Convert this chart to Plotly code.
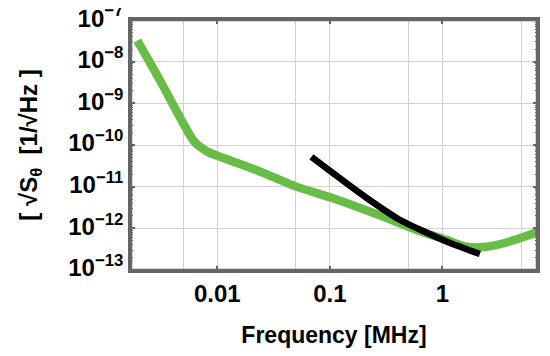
import plotly.graph_objects as go

# Green curve (frequency in MHz, noise amplitude)
green_f = [0.00195, 0.00315, 0.00509, 0.00625, 0.0082, 0.01154, 0.0222, 0.0504,
           0.1067, 0.297, 0.587, 1.086, 1.63, 2.46, 3.96, 7.2]
green_s = [3.2e-8, 3.3e-9, 3.0e-10, 1.2e-10, 6.9e-11, 4.8e-11, 2.5e-11, 1.0e-11,
           5.25e-12, 1.9e-12, 9.1e-13, 5.25e-13, 3.6e-13, 3.6e-13, 4.8e-13, 8.3e-13]

# Black curve
black_f = [0.0686, 0.1067, 0.211, 0.417, 1.086, 2.15]
black_s = [5.2e-11, 2.1e-11, 5.4e-12, 1.6e-12, 4.8e-13, 2.4e-13]

x_major = [0.01, 0.1, 1]
x_major_text = ["0.01", "0.1", "1"]
x_minor_grid = [0.005, 0.05, 0.5, 5]

y_ticks = [1e-13, 1e-12, 1e-11, 1e-10, 1e-9, 1e-8, 1e-7]
y_tick_text = ["10<sup>−13</sup>", "10<sup>−12</sup>", "10<sup>−11</sup>", "10<sup>−10</sup>",
               "10<sup>−9</sup>", "10<sup>−8</sup>", "10<sup>−7</sup>"]

FONT = "Liberation Sans, Arial, sans-serif"
FRAME = "#666666"
GRID = "#d3d3d3"

fig = go.Figure()
fig.add_trace(go.Scatter(x=green_f, y=green_s, mode="lines",
                         line=dict(color="#67bd45", width=8.5, shape="spline", smoothing=0.7),
                         showlegend=False, hoverinfo="skip"))
fig.add_trace(go.Scatter(x=black_f, y=black_s, mode="lines",
                         line=dict(color="#000000", width=6.5, shape="spline", smoothing=0.6),
                         showlegend=False, hoverinfo="skip"))

# page body has an 8px default margin, so the figure is 534x340 inside a 550x356 window
fig.update_layout(
    width=534, height=340,
    margin=dict(l=123, r=5, t=12, b=78, autoexpand=False),
    paper_bgcolor="white", plot_bgcolor="white",
    font=dict(family=FONT, color="black"),
)

# plot frame
fig.add_shape(type="rect", xref="paper", yref="paper", x0=0, y0=0, x1=1, y1=1,
              line=dict(color=FRAME, width=2.5), layer="above")

fig.update_xaxes(
    type="log", range=[-2.766, 0.84], autorange=False,
    tickmode="array", tickvals=x_major, ticktext=["<b>%s</b>" % t for t in x_major_text],
    tickfont=dict(size=24, family=FONT, color="black"),
    ticks="inside", ticklen=4, tickwidth=2, tickcolor=FRAME,
    showline=True, linecolor=FRAME, linewidth=2.5, mirror="allticks",
    showgrid=True, gridcolor=GRID, gridwidth=1,
    minor=dict(tickmode="array", tickvals=x_minor_grid, showgrid=True,
               gridcolor=GRID, gridwidth=1, ticks=""),
    zeroline=False,
    title=dict(text="<b>Frequency [MHz]</b>", standoff=23,
               font=dict(size=23, family=FONT, color="black")),
)

fig.update_yaxes(
    type="log", range=[-13.003, -6.997], autorange=False,
    tickmode="array", tickvals=y_ticks, ticktext=["<b>%s</b>" % t for t in y_tick_text],
    ticklabeloverflow="allow", ticklabelshift=-2,
    tickfont=dict(size=24, family=FONT, color="black"),
    ticks="inside", ticklen=4, tickwidth=2, tickcolor=FRAME,
    showline=True, linecolor=FRAME, linewidth=2.5, mirror="allticks",
    showgrid=True, gridcolor=GRID, gridwidth=1,
    minor=dict(dtick="D1", ticks="inside", ticklen=2.5, tickwidth=1.2,
               tickcolor=FRAME, showgrid=False),
    zeroline=False,
    title=dict(text="<b>[ √S<sub>θ</sub>  [1/√Hz ]</b>", standoff=24,
               font=dict(size=24, family=FONT, color="black")),
)

fig.write_html("out.html")
